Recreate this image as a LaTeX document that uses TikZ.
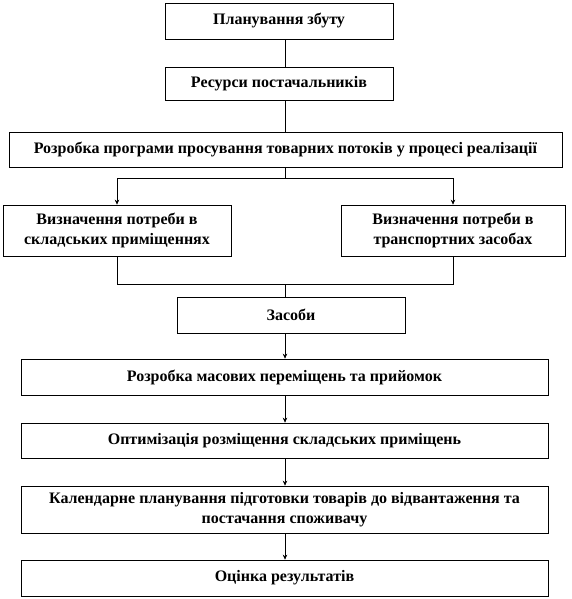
\documentclass[tikz,border=0pt]{standalone}
\usepackage{fontspec}
\setmainfont{Liberation Serif}
\usetikzlibrary{arrows.meta}
\begin{document}
\begin{tikzpicture}[x=1pt,y=-1pt,
  box/.style={draw=black,line width=0.7pt,rectangle,inner sep=0pt,align=center,
    font=\bfseries\fontsize{16}{19.5}\selectfont},
  conn/.style={draw=black,line width=0.7pt},
  arr/.style={conn,-{Stealth[length=5pt,width=4.5pt]}}]
\useasboundingbox (0,0) rectangle (571,599);
\coordinate (spine) at (285,0);
\node[box,minimum width=228pt,minimum height=36pt] (b1) at (279,21) {Планування збуту};
\node[box,minimum width=228pt,minimum height=33pt] (b2) at (279,83.5) {Ресурси постачальників};
\node[box,minimum width=553pt,minimum height=35pt] (b3) at (285.5,149.5) {Розробка програми просування товарних потоків у процесі реалізації};
\node[box,minimum width=228pt,minimum height=51pt] (b4l) at (117,230.5) {Визначення потреби в\\складських приміщеннях};
\node[box,minimum width=224pt,minimum height=51pt] (b4r) at (453,230.5) {Визначення потреби в\\транспортних засобах};
\node[box,minimum width=228pt,minimum height=36pt] (b5) at (291,315) {Засоби};
\node[box,minimum width=527pt,minimum height=36pt] (b6) at (284.5,377) {Розробка масових переміщень та прийомок};
\node[box,minimum width=527pt,minimum height=35pt] (b7) at (284.5,440.5) {Оптимізація розміщення складських приміщень};
\node[box,minimum width=527pt,minimum height=47pt] (b8) at (284.5,509.5) {Календарне планування підготовки товарів до відвантаження та\\постачання споживачу};
\node[box,minimum width=527pt,minimum height=36pt] (b9) at (284.5,578) {Оцінка результатів};
\coordinate (split) at (285,178);
\coordinate (join) at (285,284);
\draw[conn] (b1.south -| spine) -- (b2.north -| spine);
\draw[conn] (b2.south -| spine) -- (b3.north -| spine);
\draw[conn] (b3.south -| spine) -- (split);
\draw[arr] (split) -| (b4l.north);
\draw[arr] (split) -| (b4r.north);
\draw[conn] (b4l.south) |- (join);
\draw[conn] (b4r.south) |- (join);
\draw[conn] (join) -- (b5.north -| spine);
\draw[arr] (b5.south -| spine) -- (b6.north -| spine);
\draw[arr] (b6.south -| spine) -- (b7.north -| spine);
\draw[arr] (b7.south -| spine) -- (b8.north -| spine);
\draw[arr] (b8.south -| spine) -- (b9.north -| spine);
\end{tikzpicture}
\end{document}
